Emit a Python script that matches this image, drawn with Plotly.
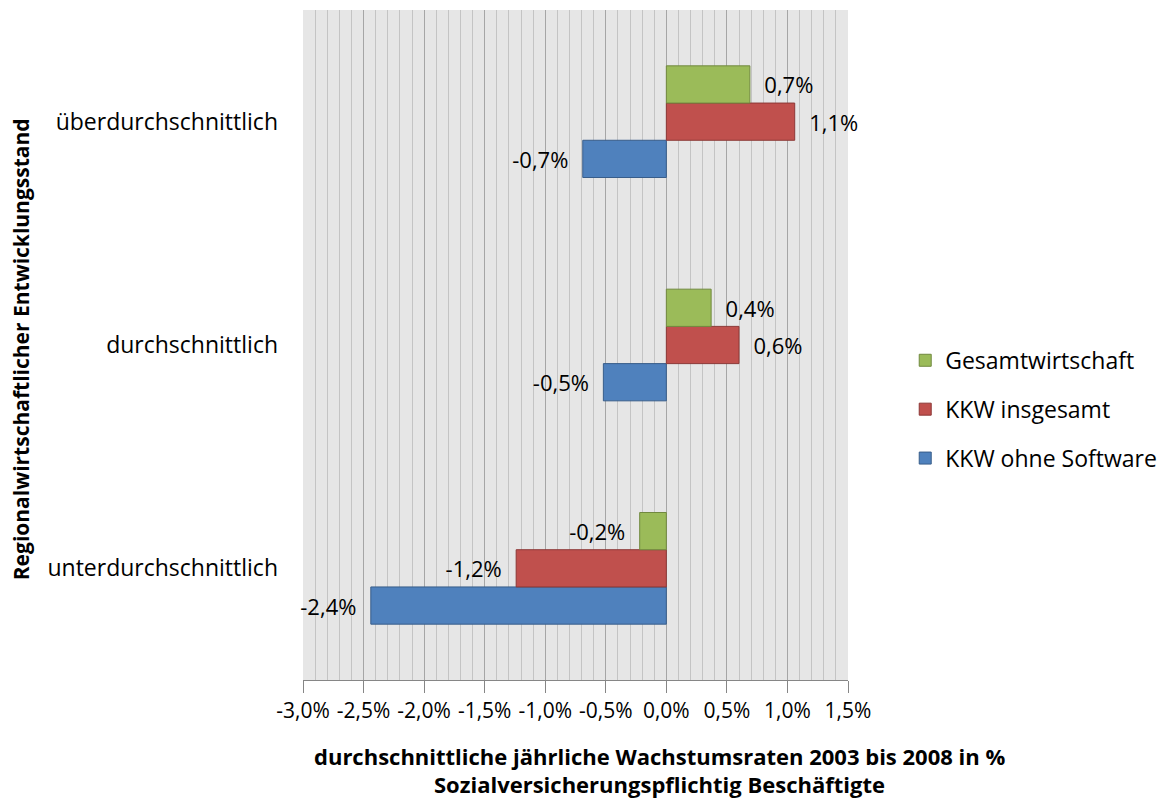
import plotly.graph_objects as go

categories = ["unterdurchschnittlich", "durchschnittlich", "überdurchschnittlich"]
series_names = ["KKW ohne Software", "KKW insgesamt", "Gesamtwirtschaft"]
legend_ranks = [3, 2, 1]
kkw_ohne = [-2.44, -0.52, -0.69]
kkw_ges = [-1.24, 0.60, 1.06]
gesamt = [-0.22, 0.37, 0.69]
x_ticks = [-3.0, -2.5, -2.0, -1.5, -1.0, -0.5, 0.0, 0.5, 1.0, 1.5]
x_ticktext = [f"{v:.1f}%".replace(".", ",") for v in x_ticks]

fills = ["#4F81BD", "#C0504D", "#9BBB59"]
lines = ["#385D8A", "#8C3836", "#71893F"]
FONT = "Open Sans"
NB = "\u00a0\u00a0"

fig = go.Figure()
for name, rank, vals, fc, lc in zip(series_names, legend_ranks, [kkw_ohne, kkw_ges, gesamt], fills, lines):
    tmpl = [(NB + "%{x:.1f}%") if v >= 0 else ("%{x:.1f}%" + NB) for v in vals]
    fig.add_trace(go.Bar(
        y=categories, x=vals, name=name, orientation="h", legendgroup=name,
        legendrank=rank,
        marker=dict(color=fc, line=dict(color=lc, width=1)),
        texttemplate=tmpl, textposition="outside",
        textfont=dict(family=FONT, size=22, color="#000000"),
        cliponaxis=False,
    ))

fig.update_layout(
    width=1160, height=793,
    margin=dict(l=295, r=320, t=2, b=121),
    paper_bgcolor="white", plot_bgcolor="#E6E6E6",
    barmode="group", bargap=0.5, bargroupgap=0,
    separators=",.",
    font=dict(family=FONT, size=22, color="#000000"),
    showlegend=True,
    legend=dict(x=1.105, y=0.404, xanchor="left", yanchor="middle",
                traceorder="grouped", font=dict(family=FONT, size=23),
                itemwidth=30, tracegroupgap=16, bgcolor="rgba(0,0,0,0)"),
    xaxis=dict(range=[-3.0, 1.5], tickvals=x_ticks, ticktext=x_ticktext,
               showgrid=True, gridcolor="#A6A6A6", gridwidth=1,
               minor=dict(dtick=0.1, showgrid=True, gridcolor="#C4C4C4", gridwidth=1),
               ticks="outside", ticklen=12, tickcolor="#868686",
               showline=True, linecolor="#868686", zeroline=False,
               tickfont=dict(family=FONT, size=21)),
    yaxis=dict(categoryorder="array", categoryarray=categories,
               showgrid=False, zeroline=False, showline=False,
               ticks="", ticklabelstandoff=24,
               tickfont=dict(family=FONT, size=23)),
    annotations=[
        dict(text="<b>durchschnittliche jährliche Wachstumsraten 2003 bis 2008 in %</b>",
             xref="paper", yref="paper", x=0.655, y=-0.113, xanchor="center", yanchor="middle",
             showarrow=False, font=dict(family=FONT, size=22)),
        dict(text="<b>Sozialversicherungspflichtig Beschäftigte</b>",
             xref="paper", yref="paper", x=0.655, y=-0.155, xanchor="center", yanchor="middle",
             showarrow=False, font=dict(family=FONT, size=22)),
        dict(text="<b>Regionalwirtschaftlicher Entwicklungsstand</b>",
             xref="paper", yref="paper", x=-0.517, y=0.494, xanchor="center", yanchor="middle",
             textangle=-90, showarrow=False, font=dict(family=FONT, size=21)),
    ],
)

fig.write_html("out.html")
